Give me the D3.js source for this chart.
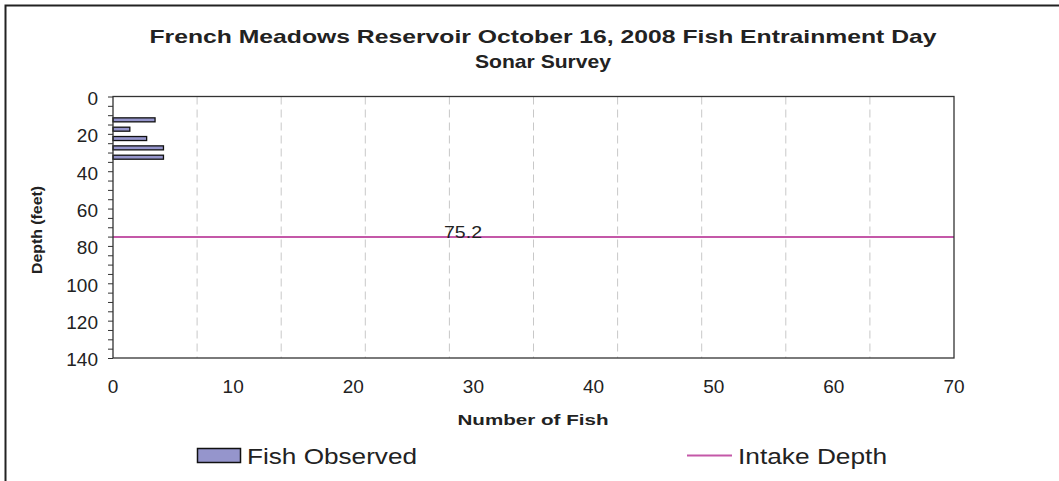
<!DOCTYPE html>
<html>
<head>
<meta charset="utf-8">
<script src="https://cdn.jsdelivr.net/npm/d3@7"></script>
<style>
  body { margin: 0; background: #fff; }
  text { font-family: "Liberation Sans", Arial, sans-serif; fill: #222; }
</style>
</head>
<body>
<svg width="1059" height="481"></svg>
<script>
// data
const titleLines   = ["French Meadows Reservoir October 16, 2008 Fish Entrainment Day", "Sonar Survey"];
const depthBins    = [10, 15, 20, 25, 30];       // bin start (feet)
const fishObserved = [3.5, 1.4, 2.8, 4.2, 4.2];  // number of fish
const intakeDepth  = 75.2;
const xTicks       = [0, 10, 20, 30, 40, 50, 60, 70];
const gridX        = [7, 14, 21, 28, 35, 42, 49, 56, 63];
const yTicks       = d3.range(0, 141, 5);

// setup
const width  = 1059;
const height = 481;
const plot = { left: 113, right: 954, top: 96.5, bottom: 358 };
const colors = { bar: '#9595cc', line: '#c458a8', axis: '#333', grid: '#c8c8c8' };

// the source picture is stretched sideways, so wide texts get a fixed length
const titleLen = [787, 136];

const svg = d3.select("svg");

// outer frame (cut off on right / bottom)
svg.append("path")
   .attr("d", `M5.5,${height} V5.5 H${width}`)
   .attr("fill", "none").attr("stroke", "#222").attr("stroke-width", 2);

const x = d3.scaleLinear().domain([0, 70]).range([plot.left, plot.right]);
const y = d3.scaleLinear().domain([0, 140]).range([plot.top, plot.bottom]);

// grid
svg.append("g").selectAll("line")
   .data(gridX)
   .join("line")
     .attr("x1", d => x(d)).attr("x2", d => x(d))
     .attr("y1", plot.top).attr("y2", plot.bottom)
     .attr("stroke", colors.grid).attr("stroke-width", 1)
     .attr("stroke-dasharray", "8,5");

// bars
const barH = 4;
svg.append("g").selectAll("rect")
   .data(depthBins)
   .join("rect")
     .attr("x", x(0))
     .attr("y", (d) => y(d + 2.5) - barH / 2)
     .attr("width", (d, i) => x(fishObserved[i]) - x(0))
     .attr("height", barH)
     .attr("fill", colors.bar)
     .attr("stroke", "#111").attr("stroke-width", 1.3);

// intake depth line
svg.append("line")
   .attr("x1", plot.left).attr("x2", plot.right)
   .attr("y1", y(intakeDepth)).attr("y2", y(intakeDepth))
   .attr("stroke", colors.line).attr("stroke-width", 2);
svg.append("text")
   .attr("x", 463).attr("y", y(intakeDepth) + 1)
   .attr("text-anchor", "middle")
   .attr("textLength", 38).attr("lengthAdjust", "spacingAndGlyphs")
   .style("font-size", "17px")
   .text(intakeDepth);

// plot frame
svg.append("rect")
   .attr("x", plot.left).attr("y", plot.top)
   .attr("width", plot.right - plot.left).attr("height", plot.bottom - plot.top)
   .attr("fill", "none").attr("stroke", colors.axis).attr("stroke-width", 1.3);

// y axis
const yAxis = d3.axisLeft(y)
                .tickValues(yTicks)
                .tickSize(5)
                .tickPadding(10)
                .tickFormat(d => d % 20 === 0 ? d : "");
const yg = svg.append("g").attr("transform", `translate(${plot.left},0)`).call(yAxis);
yg.select(".domain").remove();
yg.selectAll("line").attr("stroke", colors.axis);
yg.selectAll("text").style("font-size", "19px").attr("fill", "#222").attr("dy", "0.42em");

// x axis labels (no tick marks)
svg.append("g").selectAll("text")
   .data(xTicks)
   .join("text")
     .attr("x", d => x(d)).attr("y", 393)
     .attr("text-anchor", "middle")
     .style("font-size", "19px")
     .text(d => d);

// titles
svg.append("g").selectAll("text")
   .data(titleLines)
   .join("text")
     .attr("x", 543).attr("y", (d, i) => 43 + i * 25)
     .attr("text-anchor", "middle")
     .attr("textLength", (d, i) => titleLen[i]).attr("lengthAdjust", "spacingAndGlyphs")
     .style("font-size", "19px").style("font-weight", "bold")
     .text(d => d);

svg.append("text")
   .attr("x", 533).attr("y", 425)
   .attr("text-anchor", "middle")
   .attr("textLength", 151).attr("lengthAdjust", "spacingAndGlyphs")
   .style("font-size", "15px").style("font-weight", "bold")
   .text("Number of Fish");

svg.append("text")
   .attr("transform", "translate(42,230) rotate(-90)")
   .attr("text-anchor", "middle")
   .attr("textLength", 88).attr("lengthAdjust", "spacingAndGlyphs")
   .style("font-size", "14px").style("font-weight", "bold")
   .text("Depth (feet)");

// legend
const legend = svg.append("g");
legend.append("rect")
   .attr("x", 197.5).attr("y", 448.5).attr("width", 43).attr("height", 14)
   .attr("fill", colors.bar).attr("stroke", "#111").attr("stroke-width", 1.5);
legend.append("text")
   .attr("x", 247).attr("y", 464)
   .attr("textLength", 170).attr("lengthAdjust", "spacingAndGlyphs")
   .style("font-size", "22px")
   .text("Fish Observed");
legend.append("line")
   .attr("x1", 687).attr("x2", 732).attr("y1", 455.5).attr("y2", 455.5)
   .attr("stroke", colors.line).attr("stroke-width", 2);
legend.append("text")
   .attr("x", 738).attr("y", 464)
   .attr("textLength", 149).attr("lengthAdjust", "spacingAndGlyphs")
   .style("font-size", "22px")
   .text("Intake Depth");
</script>
</body>
</html>
